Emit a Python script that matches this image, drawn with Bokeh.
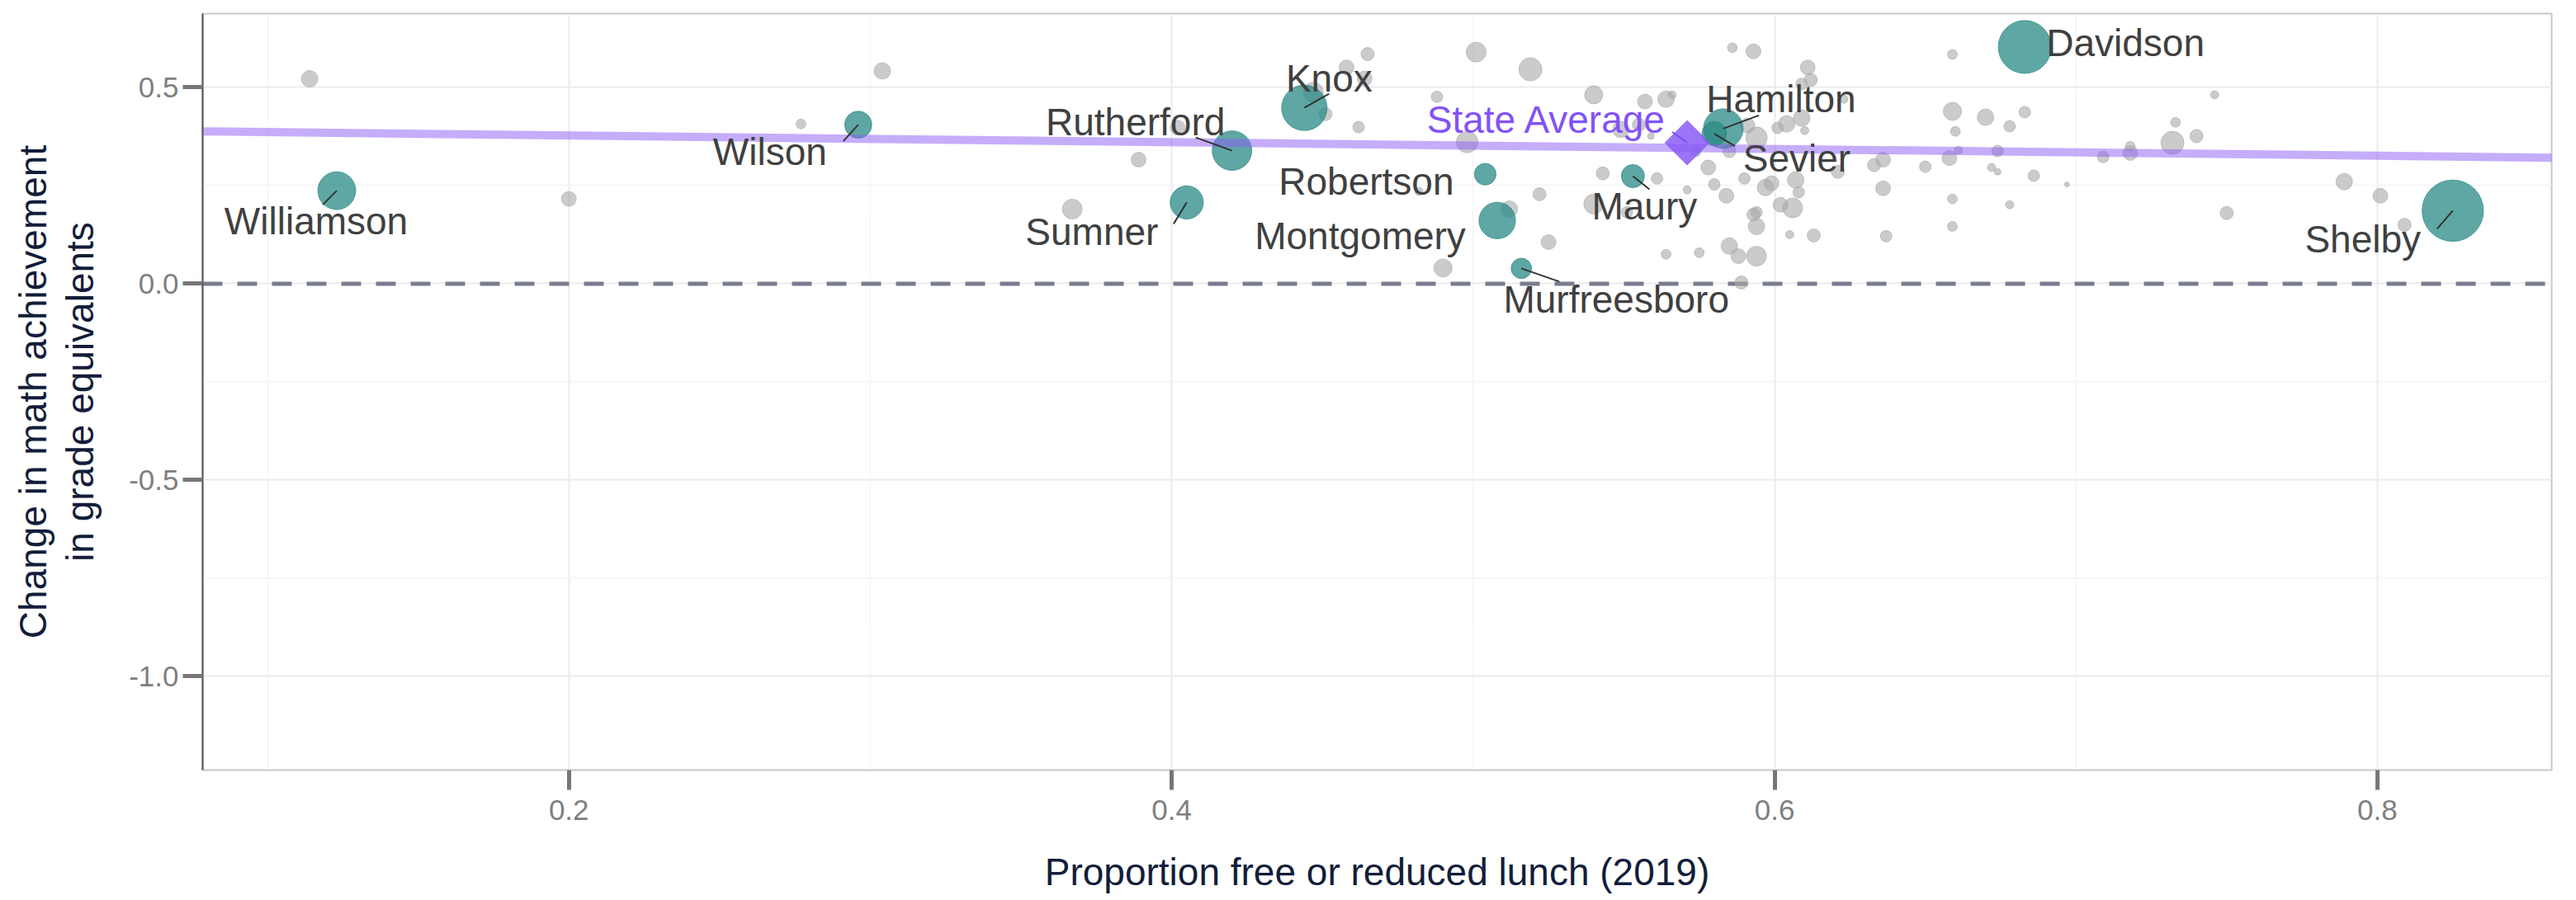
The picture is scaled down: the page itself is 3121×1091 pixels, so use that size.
import numpy as np
from bokeh.plotting import figure
from bokeh.models import ColumnDataSource, FixedTicker, Span, Range1d
from bokeh.embed import file_html
from bokeh.resources import INLINE
from bokeh.core.properties import value

# ---------------- data ----------------
other_frl = [0.114, 0.200, 0.277, 0.304, 0.389, 0.367, 0.402, 0.465, 0.458, 0.464,
             0.447, 0.451, 0.462, 0.488, 0.490, 0.482, 0.501, 0.519, 0.498, 0.540,
             0.557, 0.564, 0.566, 0.586, 0.593, 0.611, 0.612, 0.609, 0.659, 0.659,
             0.660, 0.658, 0.661, 0.659, 0.659, 0.670, 0.637, 0.636, 0.650, 0.633,
             0.636, 0.559, 0.549, 0.555, 0.574, 0.578, 0.580, 0.571, 0.584, 0.590,
             0.597, 0.599, 0.607, 0.608, 0.621, 0.602, 0.606, 0.594, 0.593, 0.594,
             0.613, 0.605, 0.585, 0.588, 0.594, 0.589, 0.564, 0.575, 0.604, 0.601,
             0.610, 0.609, 0.591, 0.594, 0.585, 0.543, 0.561, 0.522, 0.512, 0.525,
             0.540, 0.551, 0.683, 0.678, 0.674, 0.672, 0.674, 0.686, 0.697, 0.709,
             0.718, 0.718, 0.732, 0.733, 0.740, 0.746, 0.750, 0.678, 0.623, 0.789,
             0.801, 0.809]
other_change = [0.522, 0.216, 0.407, 0.542, 0.316, 0.190, 0.397, 0.585, 0.551, 0.523,
                0.488, 0.432, 0.399, 0.476, 0.040, 0.235, 0.590, 0.546, 0.361, 0.481,
                0.464, 0.470, 0.481, 0.601, 0.592, 0.551, 0.519, 0.509, 0.584, 0.439,
                0.388, 0.320, 0.340, 0.216, 0.146, 0.424, 0.121, 0.243, 0.298, 0.302,
                0.316, 0.376, 0.393, 0.405, 0.336, 0.296, 0.253, 0.239, 0.224, 0.268,
                0.245, 0.256, 0.264, 0.233, 0.285, 0.201, 0.193, 0.182, 0.176, 0.146,
                0.123, 0.125, 0.096, 0.070, 0.070, 0.003, 0.075, 0.079, 0.407, 0.397,
                0.390, 0.422, 0.403, 0.372, 0.338, 0.281, 0.268, 0.228, 0.190, 0.106,
                0.203, 0.182, 0.437, 0.401, 0.338, 0.296, 0.285, 0.275, 0.253, 0.323,
                0.350, 0.333, 0.359, 0.411, 0.376, 0.481, 0.180, 0.201, 0.470, 0.260,
                0.224, 0.150]
other_enroll = [8.2, 6.6, 2.9, 8.2, 6.6, 11.8, 6.6, 5.2, 6.6, 6.6,
                11.8, 5.2, 4.0, 4.0, 9.9, 2.0, 11.8, 16.0, 13.8, 9.9,
                6.6, 8.2, 2.0, 2.9, 6.6, 6.6, 5.2, 4.0, 2.9, 9.9,
                2.9, 6.6, 2.0, 2.9, 2.9, 8.2, 4.0, 6.6, 4.0, 5.2,
                6.6, 1.3, 8.2, 5.2, 2.9, 6.6, 4.0, 2.0, 6.6, 4.0,
                8.2, 6.6, 8.2, 4.0, 5.2, 6.6, 11.8, 4.0, 5.2, 8.2,
                5.2, 2.0, 8.2, 6.6, 11.8, 5.2, 2.9, 2.9, 8.2, 4.0,
                2.0, 8.2, 6.6, 13.8, 5.2, 5.2, 4.0, 5.2, 8.2, 6.6,
                11.8, 4.0, 4.0, 4.0, 4.0, 2.0, 1.3, 4.0, 0.7, 4.0,
                2.9, 6.6, 16.0, 2.9, 5.2, 2.0, 5.2, 2.0, 2.0, 8.2,
                6.6, 5.2]

county_names = ["Williamson", "Wilson", "Rutherford", "Knox", "Sumner", "Robertson",
                "Montgomery", "Murfreesboro", "Maury", "Hamilton", "Sevier",
                "Davidson", "Shelby"]
county_frl = [0.123, 0.296, 0.420, 0.444, 0.405, 0.504, 0.508, 0.516, 0.553,
              0.583, 0.580, 0.683, 0.825]
county_change = [0.237, 0.405, 0.339, 0.448, 0.207, 0.279, 0.161, 0.039, 0.274,
                 0.395, 0.382, 0.603, 0.186]
county_enroll = [43.0, 22.0, 47.0, 62.0, 33.0, 14.0, 40.0, 12.5, 16.0, 47.0,
                 18.0, 84.0, 113.0]

state_label = ["State Average"]
state_frl = [0.571]
state_change = [0.359]

trend_frl = [0.0785, 0.858]
trend_change = [0.388, 0.321]

x_ticks = [0.2, 0.4, 0.6, 0.8]
x_tick_labels = ["0.2", "0.4", "0.6", "0.8"]
y_ticks = [-1.0, -0.5, 0.0, 0.5]
y_tick_labels = ["-1.0", "-0.5", "0.0", "0.5"]

# ---------------- layout config (screen px) ----------------
X0, X1 = 0.0785, 0.8578
Y0, Y1 = -1.239, 0.688
FW, FH = 2846, 917
XS = FW / (X1 - X0)
YS = FH / (Y1 - Y0)

# label centre offsets (dx, dy down) and leader end offsets
label_off = {
    "Williamson": (-25, 37, -17, 17),
    "Wilson": (-107, 33, -18, 20),
    "Rutherford": (-117, -35, -44, -16),
    "Knox": (30, -36, 30, -17),
    "Sumner": (-115, 36, -16, 26),
    "Robertson": (-144, 9, 0, 0),
    "Montgomery": (-166, 19, 0, 0),
    "Murfreesboro": (115, 38, 46, 16),
    "Maury": (14, 36, 20, 16),
    "Hamilton": (70, -36, 43, -16),
    "Sevier": (100, 30, 25, 15),
    "Davidson": (122, -5, 0, 0),
    "Shelby": (-109, 35, -19, 22),
}
state_off = (-170, -28, -18, -13)


def dia(n):
    return 7.0 * np.sqrt(np.asarray(n))


FONT = value("Liberation Sans")

p = figure(frame_width=FW, frame_height=FH,
           x_range=Range1d(X0, X1), y_range=Range1d(Y0, Y1),
           output_backend="svg", toolbar_location=None,
           min_border_left=245, min_border_right=28, min_border_top=16,
           min_border_bottom=150)
p.background_fill_color = "white"
p.border_fill_color = "white"
p.outline_line_color = "#c8c8c8"
p.outline_line_width = 2

xt = FixedTicker(ticks=x_ticks, minor_ticks=[0.1, 0.3, 0.5, 0.7])
yt = FixedTicker(ticks=y_ticks, minor_ticks=[-0.75, -0.25, 0.25])
p.xaxis.ticker = xt
p.yaxis.ticker = yt
p.xgrid.ticker = xt
p.ygrid.ticker = yt
for g in (p.xgrid, p.ygrid):
    g.grid_line_color = "#ebebeb"
    g.grid_line_width = 2
    g.minor_grid_line_color = "#f4f4f4"
    g.minor_grid_line_width = 1.5

p.xaxis.major_label_overrides = {t: l for t, l in zip(x_ticks, x_tick_labels)}
p.yaxis.major_label_overrides = {t: l for t, l in zip(y_ticks, y_tick_labels)}

for ax in (p.xaxis, p.yaxis):
    ax.major_tick_out = 24
    ax.major_tick_in = 0
    ax.major_tick_line_width = 5
    ax.major_tick_line_color = "#777777"
    ax.minor_tick_line_color = None
    ax.major_label_text_font = "Liberation Sans"
    ax.major_label_text_font_size = "35px"
    ax.major_label_text_color = "#7f7f7f"
    ax.axis_label_text_font = "Liberation Sans"
    ax.axis_label_text_font_size = "46px"
    ax.axis_label_text_font_style = "normal"
    ax.axis_label_text_color = "#131d3a"

p.xaxis.axis_line_color = None
p.yaxis.axis_line_color = "#555555"
p.yaxis.axis_line_width = 2
p.xaxis.major_label_standoff = 12
p.yaxis.major_label_standoff = 5
p.xaxis.axis_label_standoff = 34
p.yaxis.axis_label_standoff = 30
p.yaxis.axis_label_text_line_height = 1.1
p.xaxis.axis_label = "Proportion free or reduced lunch (2019)"
p.yaxis.axis_label = "Change in math achievement\nin grade equivalents"

zero = Span(location=0, dimension="width", line_color="#7a7d8e", line_width=5,
            line_dash="24 18", level="underlay")
p.add_layout(zero)

# grey districts
src_o = ColumnDataSource(dict(x=other_frl, y=other_change, s=dia(other_enroll)))
p.scatter("x", "y", size="s", source=src_o, marker="circle",
          fill_color="#a8a8a8", fill_alpha=0.6, line_color="#a8a8a8", line_alpha=0.6)

# highlighted districts
src_c = ColumnDataSource(dict(x=county_frl, y=county_change, s=dia(county_enroll)))
p.scatter("x", "y", size="s", source=src_c, marker="circle",
          fill_color="#2a8a85", fill_alpha=0.75, line_color="#2a8a85", line_alpha=0.75)

# trend line
p.line(trend_frl, trend_change, line_color="#8b5cf6", line_alpha=0.5, line_width=10)

# state average diamond
p.scatter(state_frl, state_change, marker="square", size=38, angle=np.pi / 4,
          fill_color="#8b5cf6", fill_alpha=0.85, line_color="#8b5cf6", line_alpha=0.85)

# labels and leaders
lx, ly, sx0, sy0, sx1, sy1 = [], [], [], [], [], []
for nm, x, y in zip(county_names, county_frl, county_change):
    dx, dy, ex, ey = label_off[nm]
    lx.append(x + dx / XS)
    ly.append(y - dy / YS)
    if ex or ey:
        sx0.append(x); sy0.append(y)
        sx1.append(x + ex / XS); sy1.append(y - ey / YS)

p.segment(sx0, sy0, sx1, sy1, line_color="#333333", line_width=2)
p.text(lx, ly, text=county_names, text_font=FONT, text_font_size=value("46px"),
       text_color="#404040", text_align="center", text_baseline="middle")

dx, dy, ex, ey = state_off
p.segment([state_frl[0]], [state_change[0]],
          [state_frl[0] + ex / XS], [state_change[0] - ey / YS],
          line_color="#7a4ff0", line_width=2)
p.text([state_frl[0] + dx / XS], [state_change[0] - dy / YS], text=state_label,
       text_font=FONT, text_font_size=value("46px"), text_color="#8252f7",
       text_align="center", text_baseline="middle")

open("out.html", "w").write(file_html(p, INLINE))
